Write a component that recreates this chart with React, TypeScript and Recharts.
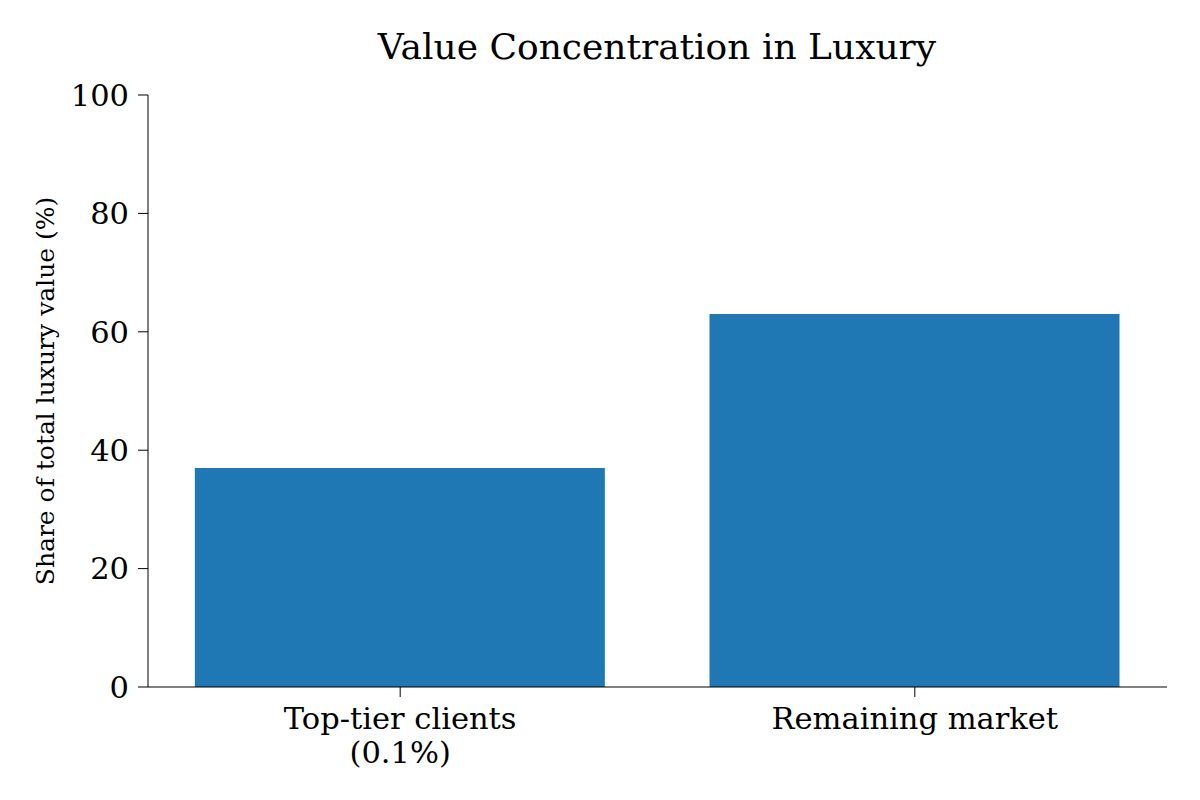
import React from 'react';
import { BarChart, Bar, XAxis, YAxis } from 'recharts';

const CATEGORIES = ['Top-tier clients\n(0.1%)', 'Remaining market'];
const SHARES = [37, 63];
const Y_TICKS = [0, 20, 40, 60, 80, 100];

const data = CATEGORIES.map((name, i) => ({ idx: i, name, share: SHARES[i] }));

const FONT = '"DejaVu Serif", serif';

const CategoryTick = ({ x, y, payload }: any) => {
  const lines = String(CATEGORIES[payload.value] ?? '').split('\n');
  return (
    <text x={x} y={y} textAnchor="middle" fontFamily={FONT} fontSize={30.5} fill="#000">
      {lines.map((line, i) => (
        <tspan key={i} x={x} dy={i === 0 ? 30 : 34}>
          {line}
        </tspan>
      ))}
    </text>
  );
};

const App: React.FC = () => {
  return (
    <div style={{ position: 'absolute', left: 0, top: 0, width: 1200, height: 800, background: '#fff' }}>
      <BarChart
        width={1200}
        height={800}
        data={data}
        margin={{ top: 95, right: 33, bottom: 53, left: 0 }}
        style={{ position: 'absolute', left: 0, top: 0 }}
      >
        <XAxis
          dataKey="idx"
          type="number"
          domain={[-0.49, 1.49]}
          ticks={[0, 1]}
          allowDecimals
          height={60}
          stroke="#000"
          tickSize={10}
          tick={<CategoryTick />}
          interval={0}
        />
        <YAxis
          type="number"
          domain={[0, 100]}
          ticks={Y_TICKS}
          width={148}
          stroke="#000"
          tickSize={10}
          tickMargin={9}
          tick={{ fontFamily: FONT, fontSize: 30.5, fill: '#000' }}
        />
        <Bar dataKey="share" fill="#1f77b4" barSize={410} isAnimationActive={false} />
      </BarChart>
      <svg width={1200} height={800} style={{ position: 'absolute', left: 0, top: 0, pointerEvents: 'none' }}>
        <text x={657} y={59} textAnchor="middle" fontFamily={FONT} fontSize={36} fill="#000">
          Value Concentration in Luxury
        </text>
        <text
          x={0}
          y={0}
          transform="translate(54 391) rotate(-90)"
          textAnchor="middle"
          fontFamily={FONT}
          fontSize={25}
          fill="#000"
        >
          Share of total luxury value (%)
        </text>
      </svg>
    </div>
  );
};

export default App;
